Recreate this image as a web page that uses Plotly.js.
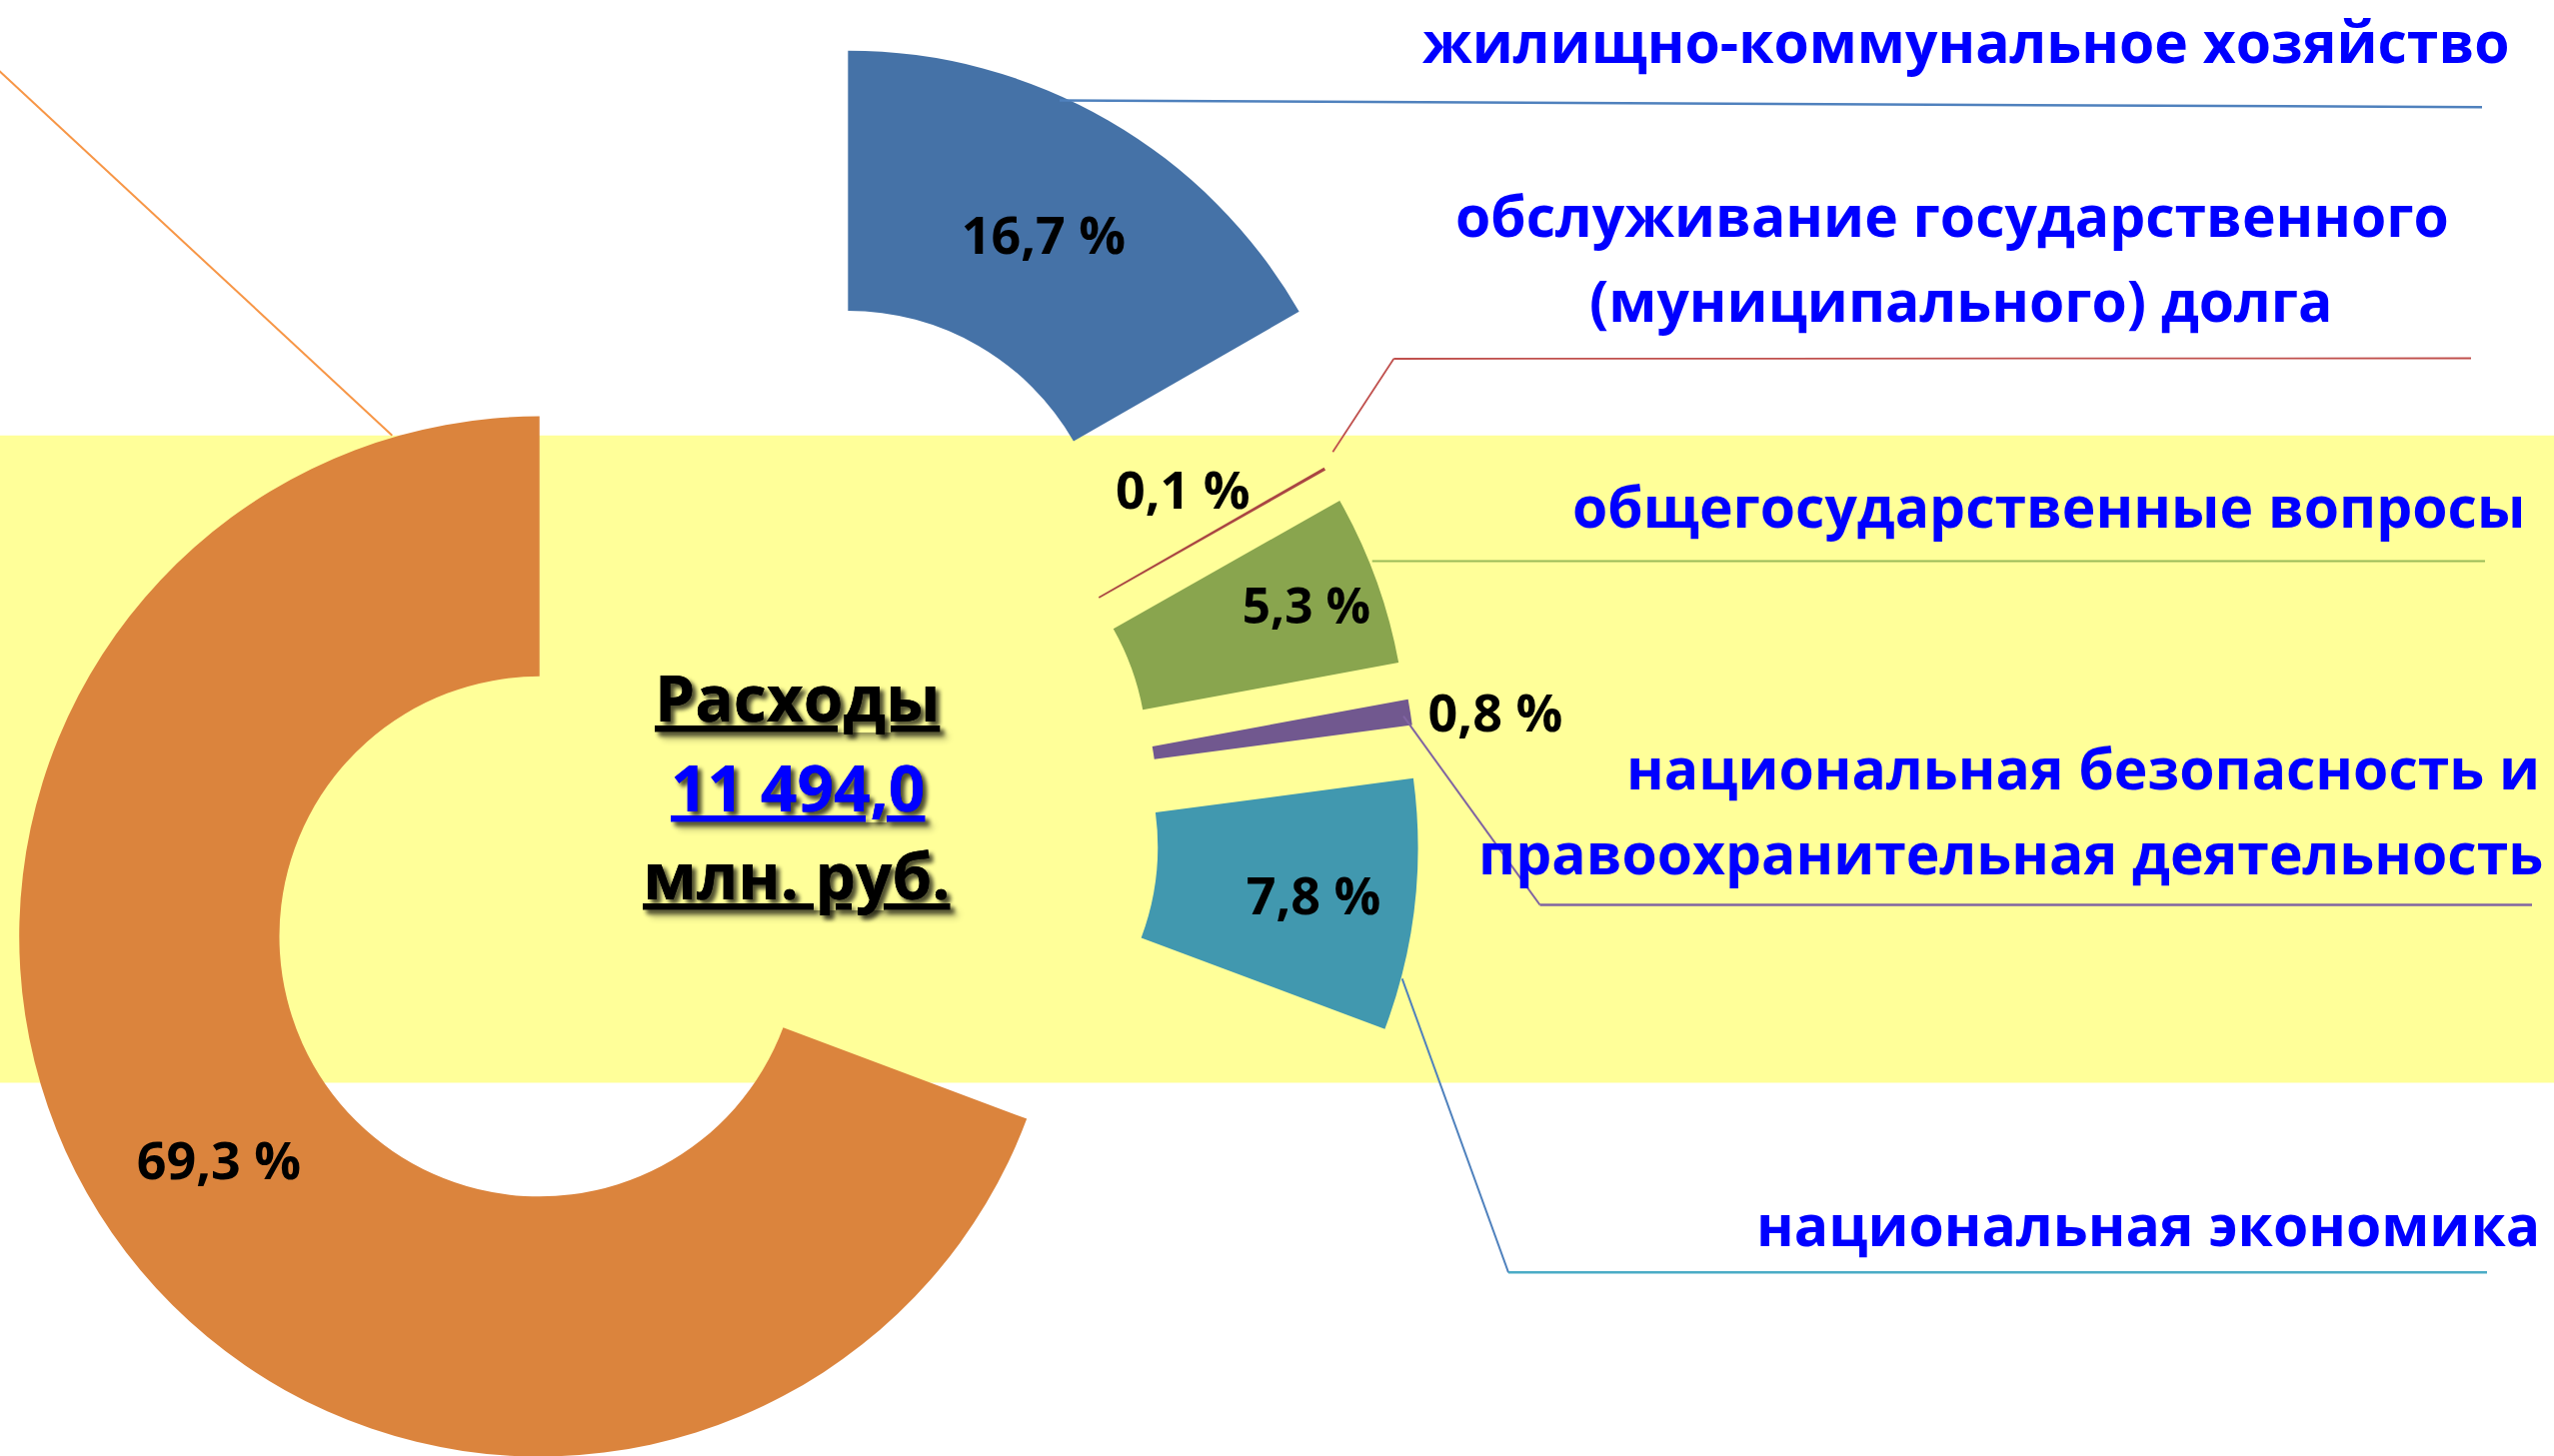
<!DOCTYPE html>
<html>
<head>
<meta charset="utf-8">
<script src="https://cdn.plot.ly/plotly-3.0.1.min.js"></script>
<style>
  html, body { margin:0; padding:0; overflow:hidden; background:#ffffff; width:2555px; height:1457px; }
  #chart { position:absolute; left:-200px; top:0; width:2800px; height:1800px; }
</style>
</head>
<body>
<div id="chart"></div>
<script>
// ---------------- DATA ----------------
const categories = [
  'жилищно-коммунальное хозяйство',
  'обслуживание государственного (муниципального) долга',
  'общегосударственные вопросы',
  'национальная безопасность и правоохранительная деятельность',
  'национальная экономика',
  'прочие расходы'
];
const shares = [16.7, 0.1, 5.3, 0.8, 7.8, 69.3];          // % of total
const categoryLines = [
  ['жилищно-коммунальное хозяйство'],
  ['обслуживание государственного', '(муниципального) долга'],
  ['общегосударственные вопросы'],
  ['национальная безопасность и', 'правоохранительная деятельность'],
  ['национальная экономика'],
  []
];
const centerTitle = 'Расходы';
const totalMln = 11494.0;
const unitLabel = 'млн. руб.';

// ---------------- FORMAT ----------------
function fmtPct(v) { return v.toFixed(1).replace('.', ',') + ' %'; }
function fmtTotal(v) {
  const s = v.toFixed(1).split('.');
  return s[0].replace(/\B(?=(\d{3})+(?!\d))/g, ' ') + ',' + s[1];
}
const pctText = shares.map(fmtPct);

// ---------------- GEOMETRY / STYLE ----------------
const W = 2800, H = 1800, OFFX = 200;          // oversized plot area, shifted left
const CX = 701.4, CY = 825, R = 520.5;          // pie centre & radius in window px
const pulls = [0.5635, 0.38, 0.38, 0.38, 0.38, 0.378];
const maxPull = Math.max.apply(null, pulls);
const half = R * (1 + maxPull);
const PX = x => (x + OFFX) / W;
const PY = y => 1 - y / H;

const colors = ['#4572A7', '#AA4643', '#89A54E', '#71588F', '#4198AF', '#DB843D'];
const lineColors = ['#4F81BD', '#C0504D', '#9BBB59', '#8064A2', '#4BACC6', '#F79646'];
const FONT = 'Open Sans, Noto Sans, DejaVu Sans, sans-serif';
const PCT_SIZE = 52;

const trace = {
  type: 'pie',
  labels: categories,
  values: shares,
  text: pctText,
  textinfo: 'text',
  sort: false,
  direction: 'clockwise',
  rotation: 0,
  hole: 0.5,
  pull: pulls,
  textposition: ['inside', 'none', 'inside', 'outside', 'inside', 'inside'],
  insidetextorientation: 'auto',
  textfont: { family: FONT, size: [PCT_SIZE, PCT_SIZE, 49.5, PCT_SIZE, PCT_SIZE, PCT_SIZE], color: '#000', weight: 700 },
  insidetextfont: { family: FONT, size: [PCT_SIZE, PCT_SIZE, 49.5, PCT_SIZE, PCT_SIZE, PCT_SIZE], color: '#000', weight: 700 },
  outsidetextfont: { family: FONT, size: PCT_SIZE, color: '#000', weight: 700 },
  marker: { colors: colors, line: { width: 0 } },
  hoverinfo: 'none',
  showlegend: false,
  domain: {
    x: [(CX + OFFX - half) / W, (CX + OFFX + half) / W],
    y: [1 - (CY + half) / H, 1 - (CY - half) / H]
  }
};

// ---------------- SHAPES ----------------
function seg(x0, y0, x1, y1, color, w) {
  return { type: 'line', xref: 'paper', yref: 'paper', x0: PX(x0), y0: PY(y0), x1: PX(x1), y1: PY(y1),
           line: { color: color, width: w || 2 }, layer: 'above' };
}
const shapes = [
  { type: 'rect', xref: 'paper', yref: 'paper', x0: 0, x1: 1, y0: PY(1083.5), y1: PY(435.7),
    fillcolor: '#FFFF99', line: { width: 0 }, layer: 'below' },
  seg(392.3, 435.7, -60, 16, lineColors[5], 2),
  seg(1060, 100.5, 2483, 107.3, lineColors[0], 2.5),
  seg(1333.3, 452.3, 1394.3, 359, lineColors[1], 1.8),
  seg(1394.3, 359, 2472, 358.5, lineColors[1], 1.8),
  seg(1372.7, 561.5, 2486, 561.5, lineColors[2], 2),
  seg(1404, 716.7, 1540.5, 905.5, lineColors[3], 2),
  seg(1540.5, 905.5, 2533, 905.5, lineColors[3], 2.5),
  seg(1402.7, 979.3, 1509, 1273.3, lineColors[0], 2),
  seg(1509, 1273.3, 2488, 1273.3, lineColors[4], 2.5)
];

// ---------------- ANNOTATIONS ----------------
const K = 0.388; // baseline -> box centre offset (em) for Open Sans
function ann(text, x, baseline, xanchor, size, color, extraFont) {
  const f = Object.assign({ family: FONT, size: size, color: color, weight: 700 }, extraFont || {});
  return { xref: 'paper', yref: 'paper', x: PX(x), y: PY(baseline - K * size),
           xanchor: xanchor, yanchor: 'middle', text: text, showarrow: false, font: f };
}
const CAT_SIZE = 57, CAT_COLOR = '#0000FF', CENTER_SIZE = 64;
const centerFont = { lineposition: 'under', shadow: '4px 4px 4px rgba(0,0,0,0.45)' };
const annotations = [
  ann(categoryLines[0][0], 2513, 63.3, 'right', CAT_SIZE, CAT_COLOR),
  ann(categoryLines[1][0], 1953, 237, 'center', CAT_SIZE, CAT_COLOR),
  ann(categoryLines[1][1], 1962, 321.7, 'center', CAT_SIZE, CAT_COLOR),
  ann(categoryLines[2][0], 2528, 528.3, 'right', CAT_SIZE, CAT_COLOR),
  ann(categoryLines[3][0], 2543, 790, 'right', CAT_SIZE, CAT_COLOR),
  ann(categoryLines[3][1], 2546, 875, 'right', CAT_SIZE, CAT_COLOR),
  ann(categoryLines[4][0], 2543, 1246.7, 'right', CAT_SIZE, CAT_COLOR),
  ann(pctText[1], 1183, 508.3, 'center', PCT_SIZE, '#000'),
  ann(centerTitle, 797.5, 722, 'center', CENTER_SIZE, '#000', centerFont),
  ann(fmtTotal(totalMln), 797.5, 812, 'center', CENTER_SIZE, '#0000FF', centerFont),
  ann(unitLabel, 797, 900, 'center', CENTER_SIZE, '#000', centerFont)
];

const layout = {
  width: W, height: H,
  margin: { l: 0, r: 0, t: 0, b: 0, pad: 0 },
  paper_bgcolor: 'rgba(0,0,0,0)',
  plot_bgcolor: 'rgba(0,0,0,0)',
  showlegend: false,
  shapes: shapes,
  annotations: annotations
};

Plotly.newPlot('chart', [trace], layout, { displayModeBar: false, staticPlot: true, responsive: false });
</script>
</body>
</html>
